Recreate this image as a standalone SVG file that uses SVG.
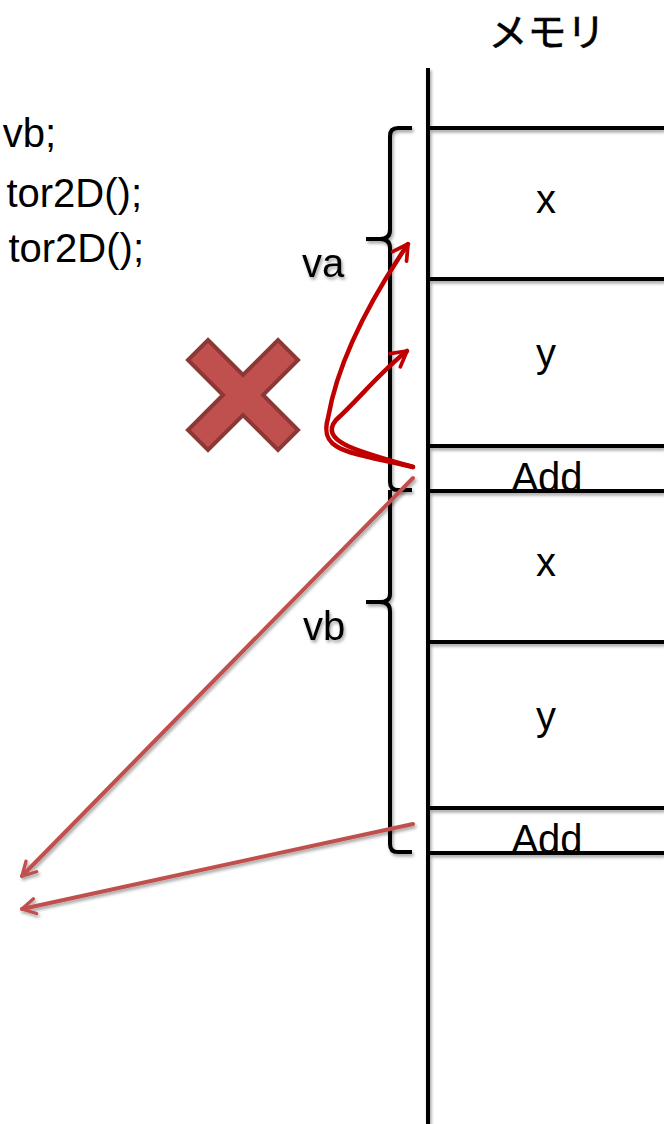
<svg xmlns="http://www.w3.org/2000/svg" width="664" height="1124" viewBox="0 0 664 1124">
<style>
text{font-family:"Liberation Sans","Noto Sans CJK JP",sans-serif;font-size:40px;fill:#000}
.ln{stroke:#000;stroke-width:4;fill:none}
.br{stroke:#000;stroke-width:4;fill:none;stroke-linejoin:round}
.dr{stroke:#c00000;stroke-width:4.5;fill:none;stroke-linecap:round}
.lr{stroke:#c0504d;stroke-width:4;fill:none;stroke-linecap:round}
</style>
<defs>
<filter id="sh" x="-10%" y="-10%" width="120%" height="130%">
<feDropShadow dx="1.5" dy="2.5" stdDeviation="1.5" flood-color="#000" flood-opacity="0.35"/>
</filter>
<marker id="ad" viewBox="0 0 12 12" refX="10" refY="6" markerWidth="5" markerHeight="5" orient="auto" markerUnits="strokeWidth">
<polyline points="2,1.5 10,6 2,10.5" fill="none" stroke="#c00000" stroke-width="2" stroke-linecap="round" stroke-linejoin="round"/>
</marker>
<marker id="al" viewBox="0 0 12 12" refX="10" refY="6" markerWidth="5" markerHeight="5" orient="auto" markerUnits="strokeWidth">
<polyline points="2,1.5 10,6 2,10.5" fill="none" stroke="#c0504d" stroke-width="2" stroke-linecap="round" stroke-linejoin="round"/>
</marker>
</defs>
<rect width="664" height="1124" fill="#fff"/>
<g id="code" style="font-size:41px">
<text x="56" y="147" text-anchor="end">vb;</text>
<text x="142" y="207" text-anchor="end">tor2D();</text>
<text x="144" y="262" text-anchor="end">tor2D();</text>
</g>
<g id="title"><text x="547" y="46" text-anchor="middle" style="font-size:39px;stroke:#000;stroke-width:0.6">メモリ</text></g>
<g id="memory" filter="url(#sh)">
<line class="ln" x1="428" y1="68" x2="428" y2="1124"/>
<line class="ln" x1="428" y1="128" x2="664" y2="128"/>
<line class="ln" x1="428" y1="279" x2="664" y2="279"/>
<line class="ln" x1="428" y1="446" x2="664" y2="446"/>
<line class="ln" x1="428" y1="491" x2="664" y2="491"/>
<line class="ln" x1="428" y1="642" x2="664" y2="642"/>
<line class="ln" x1="428" y1="808" x2="664" y2="808"/>
<line class="ln" x1="428" y1="853" x2="664" y2="853"/>
</g>
<g id="cells">
<text x="546" y="213" text-anchor="middle">x</text>
<text x="546" y="367" text-anchor="middle">y</text>
<text x="547" y="491" text-anchor="middle">Add</text>
<text x="546" y="576" text-anchor="middle">x</text>
<text x="546" y="730" text-anchor="middle">y</text>
<text x="547" y="853" text-anchor="middle">Add</text>
</g>
<g id="brace-va" filter="url(#sh)">
<path class="br" d="M412,128 L398,128 Q390,128 390,136 L390,230 Q390,239 380,239 L366,239 M380,239 Q390,239 390,248 L390,482 Q390,490 398,490 L412,490"/>
<text x="323" y="277" text-anchor="middle">va</text>
</g>
<g id="brace-vb" filter="url(#sh)">
<path class="br" d="M390,490 L390,594 Q390,602 380,602 L366,602 M380,602 Q390,602 390,611 L390,844 Q390,852 398,852 L412,852"/>
<text x="324" y="640" text-anchor="middle">vb</text>
</g>
<g id="cross">
<path d="M208,340 L243,375 L278,340 L298,360 L263,395 L298,430 L278,450 L243,415 L208,450 L188,430 L223,395 L188,360 Z" fill="#c0504d" stroke="#8c3836" stroke-width="4" stroke-linejoin="miter"/>
</g>
<g id="connectors">
<path class="dr" d="M413,467 C350,452 318,452 328,418 C338,360 370,300 408,244" marker-end="url(#ad)"/>
<path class="dr" d="M413,467 C360,452 318,442 336,420 C360,398 380,372 407,351" marker-end="url(#ad)"/>
<g filter="url(#sh)">
<line class="lr" x1="413" y1="478" x2="22" y2="876" marker-end="url(#al)"/>
<line class="lr" x1="413" y1="824" x2="22" y2="909" marker-end="url(#al)"/>
</g>
</g>
</svg>
